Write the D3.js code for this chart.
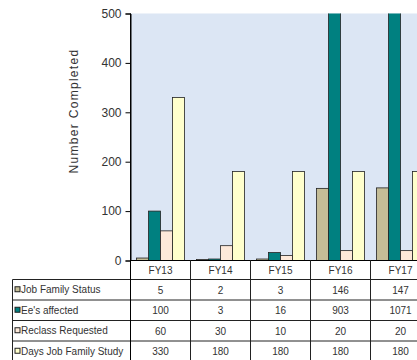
<!DOCTYPE html>
<html>
<head>
<meta charset="utf-8">
<script src="https://cdn.jsdelivr.net/npm/d3@7"></script>
<style>
  html, body { margin: 0; padding: 0; background: #fff; }
  svg { display: block; }
  text { font-family: "Liberation Sans", Arial, sans-serif; fill: #333; }
</style>
</head>
<body>
<svg id="chart" width="417" height="360"></svg>
<script>
// Fiscal years shown on the category axis
const years = ["FY13", "FY14", "FY15", "FY16", "FY17"];

// One list per series
const jobFamilyStatus = [5, 2, 3, 146, 147];
const eesAffected = [100, 3, 16, 903, 1071];
const reclassRequested = [60, 30, 10, 20, 20];
const daysJobFamilyStudy = [330, 180, 180, 180, 180];

const seriesNames = ["Job Family Status", "Ee's affected", "Reclass Requested", "Days Job Family Study"];
const seriesColors = ["#c4bd97", "#008080", "#fde9d9", "#ffffcc"];
const seriesValues = [jobFamilyStatus, eesAffected, reclassRequested, daysJobFamilyStudy];

const yTicks = [0, 100, 200, 300, 400, 500];
const yTitle = "Number Completed";

const svg = d3.select("#chart");

const plotLeft = 130.5, plotTop = 13.5, plotBottom = 260.5, bandW = 60;
const tableLeft = 12.5, rowH = 20.5, headH = 19;

const x = d3.scaleBand()
  .domain(years)
  .range([plotLeft, plotLeft + bandW * years.length])
  .paddingInner(0).paddingOuter(0);

// Four bars per year with half a bar of space on each side
const x1 = d3.scaleBand()
  .domain(d3.range(seriesNames.length))
  .range([0, bandW])
  .paddingOuter(0.5).paddingInner(0);

const y = d3.scaleLinear().domain([0, 500]).range([plotBottom, plotTop]);

// Plot background
svg.append("rect")
  .attr("x", plotLeft).attr("y", plotTop)
  .attr("width", x.range()[1] - plotLeft).attr("height", plotBottom - plotTop)
  .attr("fill", "#dce6f4");

svg.append("clipPath").attr("id", "plotClip")
  .append("rect")
  .attr("x", plotLeft).attr("y", plotTop)
  .attr("width", x.range()[1] - plotLeft).attr("height", plotBottom - plotTop + 1);

// Bars
const barsG = svg.append("g").attr("clip-path", "url(#plotClip)");
seriesValues.forEach((vals, si) => {
  barsG.selectAll(null)
    .data(vals)
    .enter().append("rect")
    .attr("x", (d, i) => x(years[i]) + x1(si))
    .attr("y", d => y(d))
    .attr("width", x1.bandwidth())
    .attr("height", d => y(0) - y(d))
    .attr("fill", seriesColors[si])
    .attr("stroke", "#222")
    .attr("stroke-width", 0.8);
});

// Y axis
const yAxis = d3.axisLeft(y).tickValues(yTicks).tickSize(5).tickPadding(4);
const yG = svg.append("g").attr("transform", `translate(${plotLeft},0)`).call(yAxis);
yG.select(".domain").attr("stroke", "#000");
yG.selectAll(".tick line").attr("stroke", "#000");
yG.selectAll(".tick text")
  .style("font-family", "Liberation Sans, Arial, sans-serif")
  .style("font-size", "12px").attr("fill", "#333");

// Y axis title
svg.append("text")
  .attr("transform", `translate(78,111) rotate(-90)`)
  .attr("text-anchor", "middle")
  .style("font-size", "12px")
  .style("letter-spacing", "1.3px")
  .text(yTitle);

// X axis baseline
svg.append("line")
  .attr("x1", plotLeft).attr("x2", x.range()[1])
  .attr("y1", plotBottom).attr("y2", plotBottom)
  .attr("stroke", "#000").attr("stroke-width", 1);

// Data table under the plot
const tableTop = plotBottom;
const rowsTop = tableTop + headH;
const tableBottom = rowsTop + rowH * seriesNames.length;
const lineColor = "#222";

// Horizontal rules
for (let r = 0; r <= seriesNames.length; r++) {
  const yy = rowsTop + r * rowH;
  svg.append("line")
    .attr("x1", tableLeft).attr("x2", x.range()[1])
    .attr("y1", yy).attr("y2", yy)
    .attr("stroke", lineColor).attr("stroke-width", 1);
}
// Vertical rules
svg.append("line")
  .attr("x1", tableLeft).attr("x2", tableLeft)
  .attr("y1", rowsTop).attr("y2", tableBottom)
  .attr("stroke", lineColor);
years.forEach((yr, i) => {
  const xx = x(yr);
  svg.append("line")
    .attr("x1", xx).attr("x2", xx)
    .attr("y1", i === 0 ? plotTop : tableTop).attr("y2", tableBottom)
    .attr("stroke", i === 0 ? "#000" : lineColor);
  svg.append("line")
    .attr("x1", xx + bandW).attr("x2", xx + bandW)
    .attr("y1", tableTop).attr("y2", tableBottom)
    .attr("stroke", lineColor);
});

// Category labels
svg.selectAll(null).data(years).enter().append("text")
  .attr("x", d => x(d) + bandW / 2)
  .attr("y", tableTop + headH / 2 + 3.5)
  .attr("text-anchor", "middle")
  .style("font-size", "10px")
  .text(d => d);

// Row labels with legend keys
seriesNames.forEach((name, si) => {
  const cy = rowsTop + si * rowH + rowH / 2;
  svg.append("rect")
    .attr("x", 15).attr("y", cy - 3)
    .attr("width", 5).attr("height", 5)
    .attr("fill", seriesColors[si])
    .attr("stroke", "#222").attr("stroke-width", 1);
  svg.append("text")
    .attr("x", 21).attr("y", cy + 3.5)
    .style("font-size", "10px")
    .text(name);
  svg.selectAll(null).data(seriesValues[si]).enter().append("text")
    .attr("x", (d, i) => x(years[i]) + bandW / 2)
    .attr("y", cy + 4)
    .attr("text-anchor", "middle")
    .style("font-size", "10px")
    .text(d => d);
});
</script>
</body>
</html>
